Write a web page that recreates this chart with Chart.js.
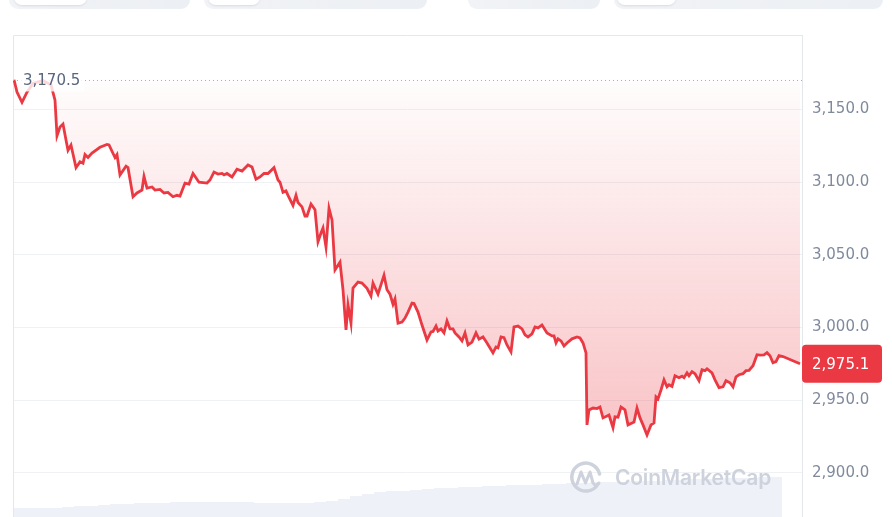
<!DOCTYPE html>
<html>
<head>
<meta charset="utf-8">
<script src="https://cdn.jsdelivr.net/npm/chart.js@4.4.1/dist/chart.umd.min.js"></script>
<style>
html, body { margin: 0; padding: 0; background: #fff; overflow: hidden; }
#wrap { position: relative; width: 892px; height: 517px; }
#chart { position: absolute; left: 0; top: 0; }
.tab { position: absolute; top: -20px; height: 29px; background: linear-gradient(90deg, #f1f3f6, #eceff3); border-radius: 9px; }
.pill { position: absolute; top: -20px; height: 25px; background: #fff; border-radius: 8px; box-shadow: 0 1px 2px rgba(88,102,126,.15); }
.wm { position: absolute; left: 615px; top: 465px; font: 600 21px Inter, sans-serif; color: #cdd2dc; letter-spacing: -0.2px; }
.logo { position: absolute; left: 569px; top: 461px; }
</style>
</head>
<body>
<div id="wrap">
  <canvas id="chart" width="892" height="517"></canvas>
  <div class="tab" style="left:9px;width:181px"></div>
  <div class="pill" style="left:14px;width:73px"></div>
  <div class="tab" style="left:204px;width:223px"></div>
  <div class="pill" style="left:208px;width:52px"></div>
  <div class="tab" style="left:468px;width:132px"></div>
  <div class="tab" style="left:614px;width:269px"></div>
  <div class="pill" style="left:617px;width:59px"></div>
  <svg class="logo" width="34" height="36" viewBox="0 0 34 36">
    <path d="M29 23 A14 14 0 1 1 30.5 13" fill="none" stroke="#cdd2dc" stroke-width="3.5" stroke-linecap="round"/>
    <path d="M8 23 L12 11 L16.5 22 L21 11 L24 22 Q26.5 26 30 22" fill="none" stroke="#cdd2dc" stroke-width="3" stroke-linejoin="round" stroke-linecap="round"/>
  </svg>
  <div class="wm">CoinMarketCap</div>
</div>
<script>
// price samples (time steps since open) and prices
var times = [0,3,8,13,19,29,37,41,43,46,49,52,54,57,62,66,69,71,74,78,86,93,95,101,103,106,112,114,119,123,128,130,133,138,141,146,150,154,159,163,166,171,175,179,185,193,196,200,204,208,210,213,218,223,228,234,238,242,246,250,254,260,264,266,269,272,274,279,282,284,288,291,293,297,301,304,307,309,312,315,318,321,326,329,332,334,337,339,344,348,353,357,359,364,370,373,376,379,381,384,388,391,394,398,400,404,408,413,417,419,422,424,427,430,433,436,439,441,445,448,451,454,458,462,465,469,473,479,482,484,487,490,493,497,500,504,508,511,514,518,521,524,528,533,538,540,542,544,547,550,553,558,563,566,569,572,573,575,579,583,586,589,593,595,599,601,604,607,611,614,618,620,623,626,629,633,637,640,642,644,647,650,653,655,658,661,665,668,670,673,675,678,681,685,688,691,693,698,701,705,709,712,716,719,722,725,729,732,735,739,743,746,750,753,756,759,762,765,769,786];
var prices = [3170.5,3162,3155,3162,3168,3170,3167,3156.5,3132,3138,3140,3129,3122,3125.6,3110,3114,3113,3119,3117,3120,3124,3126,3125.6,3117,3119,3105,3111,3110,3090,3092.6,3094.6,3104,3096,3096.7,3094.6,3095,3092.6,3093,3090,3091,3090.5,3099.4,3098.7,3106,3100,3099.4,3101.5,3107,3105.6,3106,3105,3106,3103.6,3109,3107.7,3111.8,3110.4,3102,3103.6,3106,3106,3110,3101.5,3100,3093,3094,3091,3084,3091,3086,3083,3076.7,3076.7,3085,3081,3059,3065,3068.5,3055.4,3082,3074,3039.6,3045,3026,2998.3,3015.5,3003,3027.2,3031.3,3030.6,3027,3021.7,3030.6,3023,3036,3026,3023,3016,3019.6,3003,3003.8,3006.5,3010.6,3016.8,3016.5,3010.6,3001.7,2991.4,2997,2997.3,3001,2997.6,2999,2996.3,3004.5,2999,2999,2996.3,2993.5,2990.8,2996.3,2988,2990,2996.3,2992,2993.5,2989.4,2982.5,2986.6,2986,2993.5,2993,2988,2983.2,3000.4,3001,2999,2995,2993.5,2995.6,3000.4,2999.7,3001.7,2996.3,2994.2,2994.2,2989.4,2992.2,2990.8,2987.3,2989.4,2992.2,2993.5,2992.8,2989.4,2982.5,2933,2943.3,2944.6,2944.2,2945.3,2937.8,2939.1,2939.8,2931,2938.5,2938.3,2945.3,2943.3,2933,2934.3,2935,2944.6,2937.8,2933,2926,2933,2934.3,2952.2,2950.8,2957,2964,2959.2,2960.6,2959.5,2966.8,2965.4,2966.5,2965.5,2968.8,2966.8,2969.6,2968.2,2963.4,2970.9,2970.3,2971.6,2968.8,2964,2958.6,2959.2,2963.4,2962,2959.2,2966.1,2967.5,2968.2,2970.3,2970.5,2973.7,2981.3,2981,2981.2,2982.7,2980.6,2975.8,2976.5,2980.6,2980,2975.1];

// volume (stepped area at the bottom)
var volTimes = [0,12,24,36,48,60,72,84,96,108,120,132,144,156,168,180,192,204,216,228,240,252,264,276,288,300,312,324,336,348,360,372,384,396,408,420,432,444,456,468,480,492,504,516,528,540,552,564,576,588,600,612,624,636,648,660,672,684,696,708,720,732,744,756,768];
var volumes = [9,9,9,9,10,11,11,12,13,13,14,14,14,15,15,15,15,15,15,15,14,14,14,14,14,15,16,18,21,23,25,26,26,27,28,29,29,30,30,31,31,32,32,32,33,33,34,34,35,35,35,36,36,36,37,37,38,38,38,39,39,39,40,40,40];

var openPrice = 3170.5;
var lastPrice = 2975.1;
var yTicks = [2900, 2950, 3000, 3050, 3100, 3150];
var labelFont = '15px "DejaVu Sans"';

function fmt(v) {
    return v.toLocaleString('en-US', {minimumFractionDigits: 1, maximumFractionDigits: 1});
}

var linePoints = times.map(function(t, i) { return {x: t, y: prices[i]}; });
var volPoints = volTimes.map(function(t, i) { return {x: t, y: volumes[i]}; });

var framePlugin = {
    id: 'frame',
    beforeDatasetsDraw: function(chart) {
        var c = chart.ctx, a = chart.chartArea;
        c.save();
        c.strokeStyle = '#e4e7ec';
        c.lineWidth = 1;
        c.beginPath();
        c.moveTo(a.left + 0.5, chart.height);
        c.lineTo(a.left + 0.5, a.top + 0.5);
        c.lineTo(a.right, a.top + 0.5);
        c.stroke();
        c.restore();
    },
    afterDatasetsDraw: function(chart) {
        var c = chart.ctx, a = chart.chartArea;
        var y = Math.round(chart.scales.y.getPixelForValue(openPrice)) + 0.5;
        c.save();
        // dotted open-price line
        c.strokeStyle = '#a6aebf';
        c.lineWidth = 1;
        c.setLineDash([1, 3]);
        c.beginPath();
        c.moveTo(a.left, y);
        c.lineTo(a.right, y);
        c.stroke();
        c.setLineDash([]);
        // open-price label
        c.font = labelFont;
        var txt = fmt(openPrice);
        var w = c.measureText(txt).width;
        c.fillStyle = 'rgba(255,255,255,0.8)';
        c.fillRect(a.left + 8, y - 11, w + 6, 22);
        c.fillStyle = '#58667e';
        c.textBaseline = 'middle';
        c.fillText(txt, a.left + 10, y + 1);
        c.restore();
    },
    afterDraw: function(chart) {
        var c = chart.ctx, a = chart.chartArea;
        var y = chart.scales.y.getPixelForValue(lastPrice);
        c.save();
        c.fillStyle = '#ea3943';
        c.beginPath();
        c.roundRect(a.right, y - 19, 80, 38, 4);
        c.fill();
        c.fillStyle = '#fff';
        c.font = labelFont;
        c.textBaseline = 'middle';
        c.fillText(fmt(lastPrice), a.right + 10, y + 1);
        c.restore();
    }
};

var ctx = document.getElementById('chart').getContext('2d');

var chart = new Chart(ctx, {
    type: 'line',
    data: {
        datasets: [{
            data: linePoints,
            yAxisID: 'y',
            borderColor: '#ea3943',
            borderWidth: 2.8,
            pointRadius: 0,
            tension: 0,
            order: 1,
            fill: {value: openPrice},
            backgroundColor: function(context) {
                var ch = context.chart;
                if (!ch.chartArea) return 'rgba(234,57,67,0.1)';
                var ys = ch.scales.y;
                var g = ch.ctx.createLinearGradient(0, ys.getPixelForValue(openPrice), 0, ys.getPixelForValue(2925));
                g.addColorStop(0, 'rgba(234,57,67,0.01)');
                g.addColorStop(1, 'rgba(234,57,67,0.30)');
                return g;
            }
        }, {
            data: volPoints,
            yAxisID: 'yv',
            stepped: 'before',
            borderWidth: 0,
            pointRadius: 0,
            fill: 'origin',
            backgroundColor: 'rgba(190,198,232,0.24)',
            order: 2
        }]
    },
    options: {
        responsive: false,
        animation: false,
        layout: {padding: {left: 13, top: 35, right: 0, bottom: 0}},
        plugins: {legend: {display: false}, tooltip: {enabled: false}},
        scales: {
            x: {type: 'linear', min: -1, max: 788, display: false},
            y: {
                position: 'right',
                min: 2869.6,
                max: 3201.3,
                afterBuildTicks: function(s) { s.ticks = yTicks.map(function(v) { return {value: v}; }); },
                afterFit: function(s) { s.width = 90; s.paddingTop = 0; s.paddingBottom = 0; },
                grid: {color: '#eff1f4', drawTicks: false},
                border: {display: true, color: '#e4e7ec'},
                ticks: {
                    padding: 10,
                    color: '#808a9d',
                    font: {family: 'DejaVu Sans', size: 15},
                    callback: function(v) { return fmt(v); }
                }
            },
            yv: {type: 'linear', min: 0, max: 482, display: false}
        }
    },
    plugins: [framePlugin]
});
</script>
</body>
</html>
